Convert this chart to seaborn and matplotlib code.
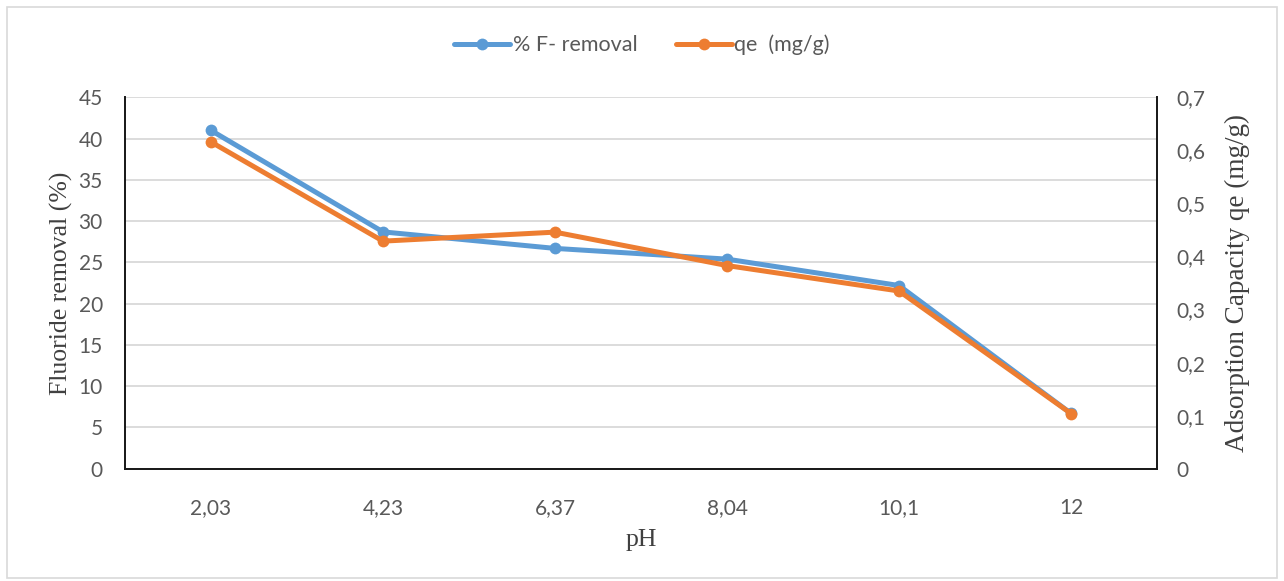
import matplotlib
matplotlib.use("Agg")
import matplotlib.pyplot as plt
import seaborn as sns
import pandas as pd
from matplotlib.lines import Line2D
from matplotlib.patches import Rectangle
from matplotlib.ticker import FuncFormatter

ph_labels = ["2,03", "4,23", "6,37", "8,04", "10,1", "12"]
removal_pct = [41.0, 28.7, 26.7, 25.4, 22.2, 6.7]
qe_mg_g = [0.616, 0.429, 0.446, 0.383, 0.335, 0.104]

sns.set_theme(style="white")
plt.rcParams['font.family'] = ['Lato', 'DejaVu Sans']

blue = "#5B9BD5"
orange = "#ED7D31"
tick_col = "#595959"
LW = 3.6
MS = 8.5

df = pd.DataFrame({"pH": ph_labels, "removal": removal_pct, "qe": qe_mg_g})

fig = plt.figure(figsize=(12.84, 5.81), dpi=100)
ax = fig.add_axes([125/1284, 1-468.7/581, (1157-125)/1284, (468.7-97.4)/581])
ax2 = ax.twinx()

sns.lineplot(data=df, x="pH", y="removal", ax=ax, color=blue, lw=LW,
             marker="o", markersize=MS, markeredgewidth=0, sort=False)
sns.lineplot(data=df, x="pH", y="qe", ax=ax2, color=orange, lw=LW,
             marker="o", markersize=MS, markeredgewidth=0, sort=False)

ax.set_xlim(-0.5, len(ph_labels) - 0.5)
ax.set_ylim(0, 45)
ax.set_yticks(range(0, 46, 5))
ax2.set_ylim(0, 0.7)
ax2.set_yticks([i / 10 for i in range(8)])
ax2.yaxis.set_major_formatter(FuncFormatter(lambda v, p: "0" if abs(v) < 1e-9 else f"{v:.1f}".replace(".", ",")))

ax.grid(axis="y", color="#D9D9D9", lw=1.3)
ax.grid(axis="x", visible=False)
ax2.grid(False)
ax.set_axisbelow(True)

for a in (ax, ax2):
    a.spines["top"].set_visible(False)
    for s in ("left", "right", "bottom"):
        a.spines[s].set_color("#1a1a1a")
        a.spines[s].set_linewidth(1.3)
    a.tick_params(axis="both", length=0, labelsize=15, labelcolor=tick_col)
ax.tick_params(axis="x", pad=21)
ax.tick_params(axis="y", pad=16)
ax2.tick_params(axis="y", pad=14)

serif = ['Liberation Serif', 'DejaVu Serif']
ax.set_xlabel("pH", family=serif, fontsize=18.5, color="#404040", labelpad=8)
ax.set_ylabel("Fluoride removal (%)", family=serif, fontsize=18.5, color="#404040", labelpad=4)
ax2.set_ylabel("Adsorption Capacity qe (mg/g)", family=serif, fontsize=19.5, color="#404040", labelpad=14)

handles = [Line2D([], [], color=blue, lw=LW, marker="o", markersize=MS, markeredgewidth=0),
           Line2D([], [], color=orange, lw=LW, marker="o", markersize=MS, markeredgewidth=0)]
fig.legend(handles, ["% F- removal", "qe  (mg/g)"], loc="center", bbox_to_anchor=(0.5, 1-45/581),
           ncol=2, frameon=False, fontsize=15.5, labelcolor=tick_col, handlelength=2.6,
           handletextpad=0.1, columnspacing=1.8)

fig.patches.append(Rectangle((7/1284, 3/581), 1-14/1284, 1-10/581, transform=fig.transFigure,
                             fill=False, edgecolor="#D9D9D9", lw=1.2))

fig.savefig("out.png", dpi=100, facecolor="white")
